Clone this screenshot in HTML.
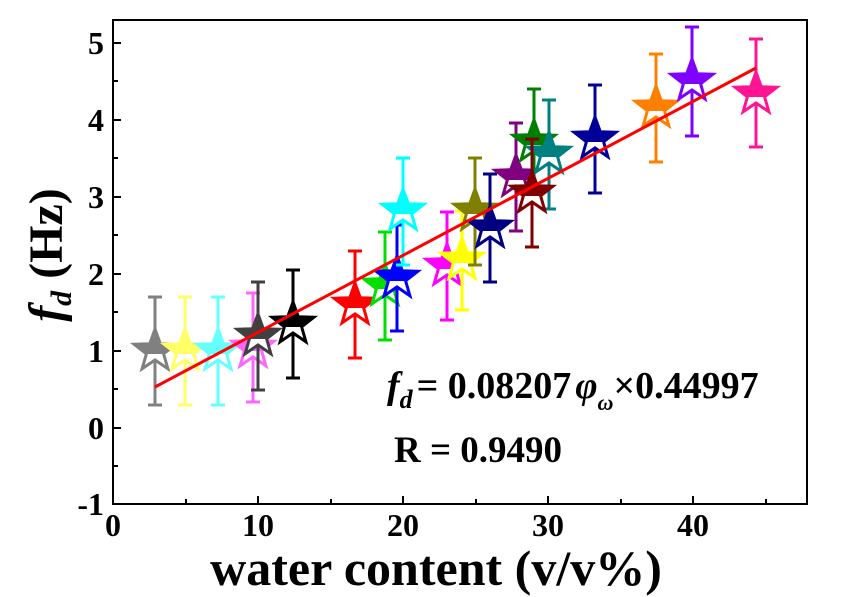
<!DOCTYPE html>
<html><head><style>body{margin:0;background:#fff}svg{display:block}</style></head><body>
<svg width="847" height="597" viewBox="0 0 847 597" xmlns="http://www.w3.org/2000/svg" xmlns:xlink="http://www.w3.org/1999/xlink" font-family="Liberation Serif, serif" font-weight="bold">
<defs>
<path id="st" d="M0,-22 L5.3,-7.3 L20.9,-6.8 L8.6,2.8 L12.9,17.8 L0,9 L-12.9,17.8 L-8.6,2.8 L-20.9,-6.8 L-5.3,-7.3 Z"/>
<clipPath id="top"><rect x="-30" y="-30" width="60" height="33"/></clipPath>
</defs>
<rect x="113" y="20" width="694" height="484" fill="none" stroke="#000" stroke-width="2"/>
<g stroke="#000" stroke-width="2">
<path d="M186,504v-5M258,504v-8M331,504v-5M403,504v-8M476,504v-5M548,504v-8M621,504v-5M693,504v-8M766,504v-5"/>
<path d="M113,466h5M113,428h8M113,389h5M113,351h8M113,312h5M113,274h8M113,235h5M113,197h8M113,158h5M113,120h8M113,81h5M113,43h8"/>
</g>
<g font-size="32" text-anchor="middle">
<text x="113" y="536">0</text><text x="258" y="536">10</text><text x="403" y="536">20</text><text x="548" y="536">30</text><text x="693" y="536">40</text>
</g>
<g font-size="32" text-anchor="end">
<text x="104" y="515">-1</text><text x="104" y="439">0</text><text x="104" y="362">1</text><text x="104" y="285">2</text><text x="104" y="208">3</text><text x="104" y="131">4</text><text x="104" y="54">5</text>
</g>
<text x="436" y="585" font-size="50" text-anchor="middle">water content (v/v%)</text>
<text transform="translate(62,255) rotate(-90)" font-size="48" text-anchor="middle"><tspan font-style="italic">f</tspan><tspan font-style="italic" font-size="30" dy="9">d</tspan><tspan dy="-9"> (Hz)</tspan></text>

<g stroke-width="3">
<g stroke="#808080"><path d="M155,297V405M148,297h14M148,405h14"/></g><g transform="translate(155,351)"><use xlink:href="#st" fill="#fff" stroke="#808080"/><use xlink:href="#st" fill="#808080" clip-path="url(#top)"/></g>
<g stroke="#ffff66"><path d="M185,297V405M178,297h14M178,405h14"/></g><g transform="translate(185,351)"><use xlink:href="#st" fill="#fff" stroke="#ffff66"/><use xlink:href="#st" fill="#ffff66" clip-path="url(#top)"/></g>
<g stroke="#66ffff"><path d="M218,297V405M211,297h14M211,405h14"/></g><g transform="translate(218,351)"><use xlink:href="#st" fill="#fff" stroke="#66ffff"/><use xlink:href="#st" fill="#66ffff" clip-path="url(#top)"/></g>
<g stroke="#ff66ff"><path d="M253,293V402M246,293h14M246,402h14"/></g><g transform="translate(253,348)"><use xlink:href="#st" fill="#fff" stroke="#ff66ff"/><use xlink:href="#st" fill="#ff66ff" clip-path="url(#top)"/></g>
<g stroke="#404040"><path d="M258,282V390M251,282h14M251,390h14"/></g><g transform="translate(258,336)"><use xlink:href="#st" fill="#fff" stroke="#404040"/><use xlink:href="#st" fill="#404040" clip-path="url(#top)"/></g>
<g stroke="#000"><path d="M293,270V378M286,270h14M286,378h14"/></g><g transform="translate(293,324)"><use xlink:href="#st" fill="#fff" stroke="#000"/><use xlink:href="#st" fill="#000" clip-path="url(#top)"/></g>
<g stroke="#f00"><path d="M355,251V358M348,251h14M348,358h14"/></g><g transform="translate(355,305)"><use xlink:href="#st" fill="#fff" stroke="#f00"/><use xlink:href="#st" fill="#f00" clip-path="url(#top)"/></g>
<g stroke="#00e000"><path d="M385,232V340M378,232h14M378,340h14"/></g><g transform="translate(385,286)"><use xlink:href="#st" fill="#fff" stroke="#00e000"/><use xlink:href="#st" fill="#00e000" clip-path="url(#top)"/></g>
<g stroke="#0000ff"><path d="M397,225V331M390,225h14M390,331h14"/></g><g transform="translate(397,278)"><use xlink:href="#st" fill="#fff" stroke="#0000ff"/><use xlink:href="#st" fill="#0000ff" clip-path="url(#top)"/></g>
<g stroke="#00ffff"><path d="M403,158V265M396,158h14M396,265h14"/></g><g transform="translate(403,211)"><use xlink:href="#st" fill="#fff" stroke="#00ffff"/><use xlink:href="#st" fill="#00ffff" clip-path="url(#top)"/></g>
<g stroke="#ff00ff"><path d="M447,212V320M440,212h14M440,320h14"/></g><g transform="translate(447,266)"><use xlink:href="#st" fill="#fff" stroke="#ff00ff"/><use xlink:href="#st" fill="#ff00ff" clip-path="url(#top)"/></g>
<g stroke="#ffff00"><path d="M462,211V310M455,211h14M455,310h14"/></g><g transform="translate(462,260)"><use xlink:href="#st" fill="#fff" stroke="#ffff00"/><use xlink:href="#st" fill="#ffff00" clip-path="url(#top)"/></g>
<g stroke="#808000"><path d="M475,158V265M468,158h14M468,265h14"/></g><g transform="translate(475,211)"><use xlink:href="#st" fill="#fff" stroke="#808000"/><use xlink:href="#st" fill="#808000" clip-path="url(#top)"/></g>
<g stroke="#000080"><path d="M490,174V282M483,174h14M483,282h14"/></g><g transform="translate(490,228)"><use xlink:href="#st" fill="#fff" stroke="#000080"/><use xlink:href="#st" fill="#000080" clip-path="url(#top)"/></g>
<g stroke="#800080"><path d="M516,123V231M509,123h14M509,231h14"/></g><g transform="translate(516,177)"><use xlink:href="#st" fill="#fff" stroke="#800080"/><use xlink:href="#st" fill="#800080" clip-path="url(#top)"/></g>
<g stroke="#008000"><path d="M534,89V195M527,89h14M527,195h14"/></g><g transform="translate(534,142)"><use xlink:href="#st" fill="#fff" stroke="#008000"/><use xlink:href="#st" fill="#008000" clip-path="url(#top)"/></g>
<g stroke="#008080"><path d="M549,100V209M542,100h14M542,209h14"/></g><g transform="translate(549,154)"><use xlink:href="#st" fill="#fff" stroke="#008080"/><use xlink:href="#st" fill="#008080" clip-path="url(#top)"/></g>
<g stroke="#800000"><path d="M532,139V247M525,139h14M525,247h14"/></g><g transform="translate(532,193)"><use xlink:href="#st" fill="#fff" stroke="#800000"/><use xlink:href="#st" fill="#800000" clip-path="url(#top)"/></g>
<g stroke="#000099"><path d="M595,85V193M588,85h14M588,193h14"/></g><g transform="translate(595,139)"><use xlink:href="#st" fill="#fff" stroke="#000099"/><use xlink:href="#st" fill="#000099" clip-path="url(#top)"/></g>
<g stroke="#ff8000"><path d="M656,54V162M649,54h14M649,162h14"/></g><g transform="translate(656,108)"><use xlink:href="#st" fill="#fff" stroke="#ff8000"/><use xlink:href="#st" fill="#ff8000" clip-path="url(#top)"/></g>
<g stroke="#8000ff"><path d="M692,27V136M685,27h14M685,136h14"/></g><g transform="translate(692,81)"><use xlink:href="#st" fill="#fff" stroke="#8000ff"/><use xlink:href="#st" fill="#8000ff" clip-path="url(#top)"/></g>
<g stroke="#ff1493"><path d="M756,39V147M749,39h14M749,147h14"/></g><g transform="translate(756,94)"><use xlink:href="#st" fill="#fff" stroke="#ff1493"/><use xlink:href="#st" fill="#ff1493" clip-path="url(#top)"/></g>
</g>

<line x1="155" y1="387" x2="756" y2="68" stroke="#f00" stroke-width="3"/>
<text x="387" y="398" font-size="38"><tspan font-style="italic">f</tspan><tspan font-style="italic" font-size="26" dy="10">d</tspan><tspan dy="-10" dx="4">= 0.08207</tspan><tspan font-style="italic" dx="4">φ</tspan><tspan font-style="italic" font-size="22" dy="12">ω</tspan><tspan dy="-12">×0.44997</tspan></text>
<text x="394" y="462" font-size="37">R = 0.9490</text>
</svg>
</body></html>
